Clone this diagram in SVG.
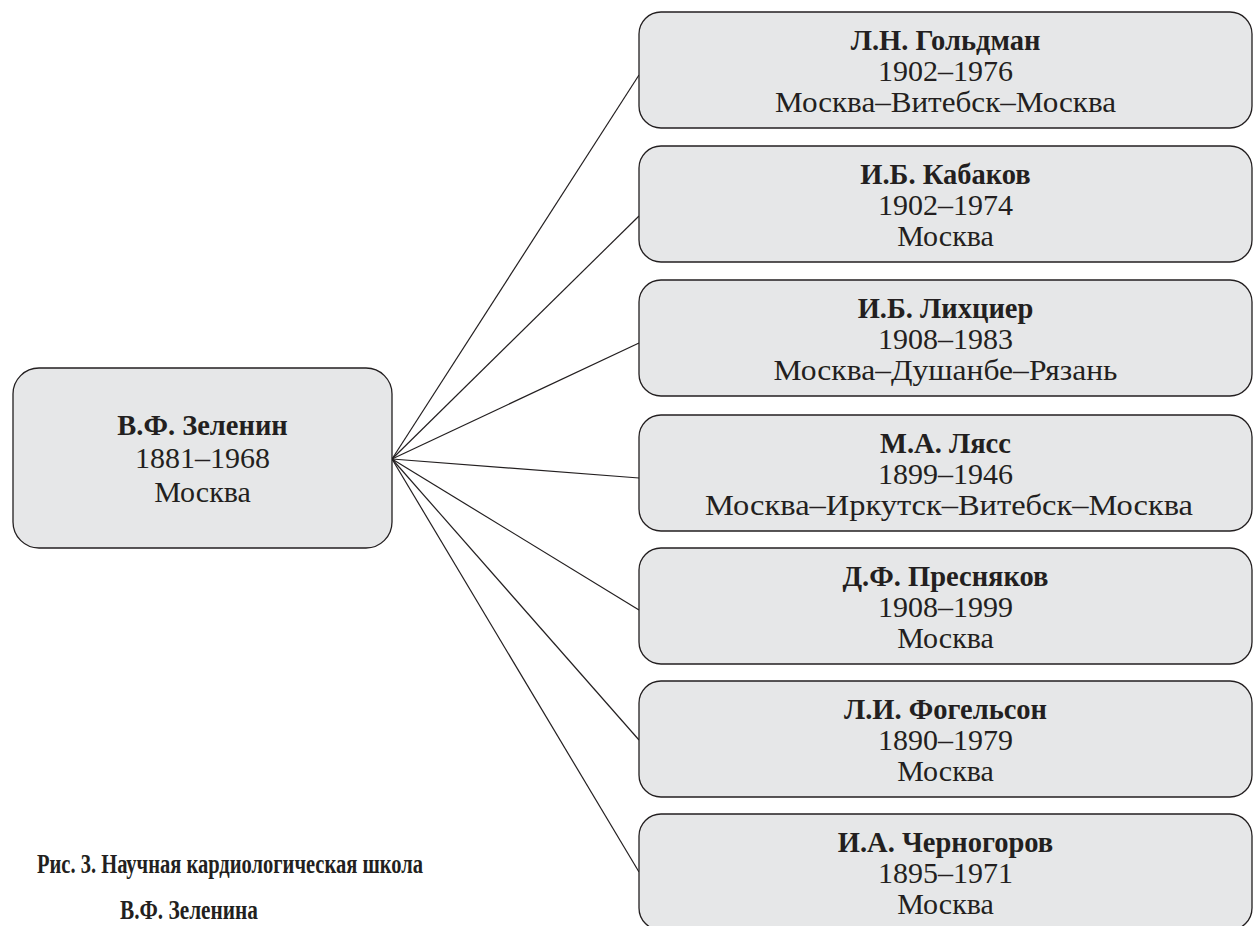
<svg xmlns="http://www.w3.org/2000/svg" width="1254" height="926" viewBox="0 0 1254 926">
<style>
.box{fill:#e6e7e8;stroke:#231f20;stroke-width:1.3}
.t{font-family:"Liberation Serif","Times New Roman",serif;fill:#231f20;text-anchor:middle;font-size:30px}
.b{font-weight:bold;font-size:28.5px}
.cap{font-family:"Liberation Serif","Times New Roman",serif;fill:#231f20;font-weight:bold;font-size:27px}
.c{stroke:#231f20;stroke-width:1.2;fill:none}
</style>
<rect width="1254" height="926" fill="#ffffff"/>
<g id="connectors">
<line class="c" x1="392" y1="459" x2="639" y2="75"/>
<line class="c" x1="392" y1="459" x2="639" y2="216"/>
<line class="c" x1="392" y1="459" x2="639" y2="343"/>
<line class="c" x1="392" y1="459" x2="639" y2="478"/>
<line class="c" x1="392" y1="459" x2="639" y2="610"/>
<line class="c" x1="392" y1="459" x2="639" y2="740"/>
<line class="c" x1="392" y1="459" x2="639" y2="872"/>
</g>
<g id="zelenin">
<rect class="box" x="13" y="368" width="379" height="180" rx="26"/>
<text class="t b" x="202.5" y="435">В.Ф. Зеленин</text>
<text class="t" x="202.5" y="468">1881–1968</text>
<text class="t" x="202.5" y="502">Москва</text>
</g>
<g id="goldman">
<rect class="box" x="639" y="12" width="613" height="116" rx="22"/>
<text class="t b" x="945.5" y="50">Л.Н. Гольдман</text>
<text class="t" x="945.5" y="81">1902–1976</text>
<text class="t" x="945.5" y="112" textLength="341" lengthAdjust="spacingAndGlyphs">Москва–Витебск–Москва</text>
</g>
<g id="kabakov">
<rect class="box" x="639" y="146" width="613" height="116" rx="22"/>
<text class="t b" x="945.5" y="184">И.Б. Кабаков</text>
<text class="t" x="945.5" y="215">1902–1974</text>
<text class="t" x="945.5" y="246">Москва</text>
</g>
<g id="lihcier">
<rect class="box" x="639" y="280" width="613" height="116" rx="22"/>
<text class="t b" x="945.5" y="318">И.Б. Лихциер</text>
<text class="t" x="945.5" y="349">1908–1983</text>
<text class="t" x="945.5" y="380" textLength="344" lengthAdjust="spacingAndGlyphs">Москва–Душанбе–Рязань</text>
</g>
<g id="lyass">
<rect class="box" x="639" y="415" width="613" height="116" rx="22"/>
<text class="t b" x="945.5" y="453">М.А. Лясс</text>
<text class="t" x="945.5" y="484">1899–1946</text>
<text class="t" x="949" y="515" textLength="488" lengthAdjust="spacingAndGlyphs">Москва–Иркутск–Витебск–Москва</text>
</g>
<g id="presnyakov">
<rect class="box" x="639" y="548" width="613" height="116" rx="22"/>
<text class="t b" x="945.5" y="586">Д.Ф. Пресняков</text>
<text class="t" x="945.5" y="617">1908–1999</text>
<text class="t" x="945.5" y="648">Москва</text>
</g>
<g id="fogelson">
<rect class="box" x="639" y="681" width="613" height="116" rx="22"/>
<text class="t b" x="945.5" y="719">Л.И. Фогельсон</text>
<text class="t" x="945.5" y="750">1890–1979</text>
<text class="t" x="945.5" y="781">Москва</text>
</g>
<g id="chernogorov">
<rect class="box" x="639" y="814" width="613" height="116" rx="22"/>
<text class="t b" x="945.5" y="852">И.А. Черногоров</text>
<text class="t" x="945.5" y="883">1895–1971</text>
<text class="t" x="945.5" y="914">Москва</text>
</g>
<g id="caption">
<text class="cap" x="37" y="873" textLength="386" lengthAdjust="spacingAndGlyphs">Рис. 3. Научная кардиологическая школа</text>
<text class="cap" x="120" y="919" textLength="138" lengthAdjust="spacingAndGlyphs">В.Ф. Зеленина</text>
</g>
</svg>
